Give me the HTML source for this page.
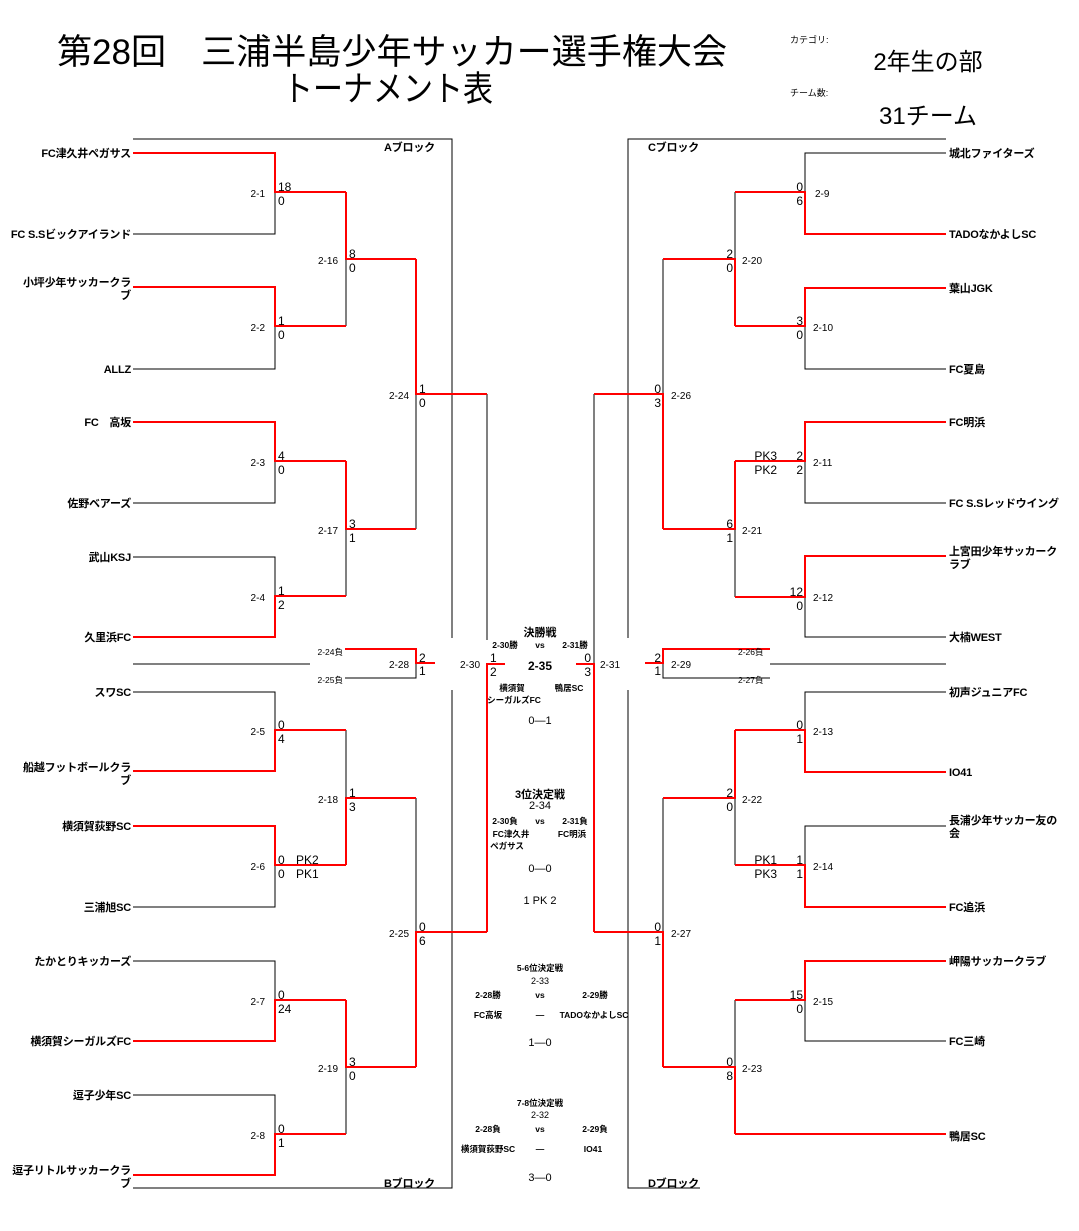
<!DOCTYPE html>
<html><head><meta charset="utf-8"><style>
html,body{margin:0;padding:0;background:#fff;}
svg{display:block;font-family:"Liberation Sans","Noto Sans CJK JP",sans-serif;}
.t{font-size:11px;font-weight:bold;letter-spacing:-0.2px;}
.s{font-size:12px;}
.m{font-size:10px;}
.xs{font-size:8.5px;font-weight:bold;}
</style></head><body>
<svg width="1079" height="1231" viewBox="0 0 1079 1231" xmlns="http://www.w3.org/2000/svg">
<!-- title -->
<text x="57" y="64" font-size="35" textLength="670" lengthAdjust="spacingAndGlyphs">第28回　三浦半島少年サッカー選手権大会</text>
<text x="283" y="101" font-size="35" textLength="210" lengthAdjust="spacingAndGlyphs">トーナメント表</text>
<text x="790" y="43" font-size="9">カテゴリ:</text>
<text x="928" y="70" font-size="24" text-anchor="middle">2年生の部</text>
<text x="790" y="96" font-size="9">チーム数:</text>
<text x="928" y="124" font-size="24" text-anchor="middle">31チーム</text>

<g fill="none" stroke="#000" stroke-width="1">
<path d="M133 139H452V638M452 690V1188H133"/>
<path d="M946 139H628V638M628 690V1188H700"/>
<path d="M133 664H310M770 664H946"/>
<path d="M133 153H275V234H133M133 287H275V369H133M133 422H275V503H133M133 557H275V637H133M133 692H275V771H133M133 826H275V907H133M133 961H275V1041H133M133 1095H275V1175H133"/>
<path d="M346 192V326M346 461V596M346 730V865M346 1000V1134M416 259V529M416 798V1067M487 394V640M487 664V932"/>
<path d="M345 649H416V678H345"/>
<path d="M946 153H805V234H946M946 288H805V369H946M946 422H805V503H946M946 556H805V637H946M946 692H805V772H946M946 826H805V907H946M946 961H805V1041H946"/>
<path d="M735 192V326M735 461V597M735 730V865M735 1000V1134M663 259V529M663 798V1067M594 394V932"/>
<path d="M770 649H663V678H770"/>
</g>
<g fill="none" stroke="#f00" stroke-width="2">
<path d="M133 153H275V192H346M133 287H275V326H346M133 422H275V461H346M133 637H275V596H346M133 771H275V730H346M133 826H275V865H346M133 1041H275V1000H346M133 1175H275V1134H346"/>
<path d="M346 192V259H416M346 461V529H416M346 865V798H416M346 1000V1067H416"/>
<path d="M416 259V394H487M416 1067V932H487M487 932V664H505"/>
<path d="M345 649H416V663H435"/>
<path d="M946 234H805V192H735M946 288H805V326H735M946 422H805V461H735M946 556H805V597H735M946 772H805V730H735M946 907H805V865H735M946 961H805V1000H735M946 1134H735"/>
<path d="M735 326V259H663M735 461V529H663M735 730V798H663M735 1134V1067H663"/>
<path d="M663 529V394H594M663 1067V932H594M594 932V664H576"/>
<path d="M770 649H663V663H645"/>
</g>

<g>
<text x="384" y="151" class="t">Aブロック</text>
<text x="648" y="151" class="t">Cブロック</text>
<text x="384" y="1187" class="t">Bブロック</text>
<text x="648" y="1187" class="t">Dブロック</text>
</g>

<g class="t" text-anchor="end">
<text x="131" y="157">FC津久井ペガサス</text>
<text x="131" y="238">FC S.Sビックアイランド</text>
<text x="131" y="286">小坪少年サッカークラ</text>
<text x="131" y="299">ブ</text>
<text x="131" y="373">ALLZ</text>
<text x="131" y="426">FC　高坂</text>
<text x="131" y="507">佐野ベアーズ</text>
<text x="131" y="561">武山KSJ</text>
<text x="131" y="641">久里浜FC</text>
<text x="131" y="696">スワSC</text>
<text x="131" y="771">船越フットボールクラ</text>
<text x="131" y="784">ブ</text>
<text x="131" y="830">横須賀荻野SC</text>
<text x="131" y="911">三浦旭SC</text>
<text x="131" y="965">たかとりキッカーズ</text>
<text x="131" y="1045">横須賀シーガルズFC</text>
<text x="131" y="1099">逗子少年SC</text>
<text x="131" y="1174">逗子リトルサッカークラ</text>
<text x="131" y="1187">ブ</text>
</g>
<g class="t">
<text x="949" y="157">城北ファイターズ</text>
<text x="949" y="238">TADOなかよしSC</text>
<text x="949" y="292">葉山JGK</text>
<text x="949" y="373">FC夏島</text>
<text x="949" y="426">FC明浜</text>
<text x="949" y="507">FC S.Sレッドウイング</text>
<text x="949" y="555">上宮田少年サッカーク</text>
<text x="949" y="568">ラブ</text>
<text x="949" y="641">大楠WEST</text>
<text x="949" y="696">初声ジュニアFC</text>
<text x="949" y="776">IO41</text>
<text x="949" y="824">長浦少年サッカー友の</text>
<text x="949" y="837">会</text>
<text x="949" y="911">FC追浜</text>
<text x="949" y="965">岬陽サッカークラブ</text>
<text x="949" y="1045">FC三崎</text>
<text x="949" y="1140">鴨居SC</text>
</g>

<g class="m" text-anchor="end">
<text x="265" y="197">2-1</text><text x="265" y="331">2-2</text><text x="265" y="466">2-3</text><text x="265" y="601">2-4</text>
<text x="265" y="735">2-5</text><text x="265" y="870">2-6</text><text x="265" y="1005">2-7</text><text x="265" y="1139">2-8</text>
<text x="338" y="264">2-16</text><text x="338" y="534">2-17</text><text x="338" y="803">2-18</text><text x="338" y="1072">2-19</text>
<text x="409" y="399">2-24</text><text x="409" y="937">2-25</text>
<text x="409" y="668">2-28</text><text x="480" y="668">2-30</text>
<text x="343" y="655" font-size="8.5">2-24負</text><text x="343" y="683" font-size="8.5">2-25負</text>
</g>
<g class="s">
<text x="278" y="191">18</text><text x="278" y="205">0</text>
<text x="278" y="325">1</text><text x="278" y="339">0</text>
<text x="278" y="460">4</text><text x="278" y="474">0</text>
<text x="278" y="595">1</text><text x="278" y="609">2</text>
<text x="278" y="729">0</text><text x="278" y="743">4</text>
<text x="278" y="864">0</text><text x="278" y="878">0</text>
<text x="296" y="864">PK2</text><text x="296" y="878">PK1</text>
<text x="278" y="999">0</text><text x="278" y="1013">24</text>
<text x="278" y="1133">0</text><text x="278" y="1147">1</text>
<text x="349" y="258">8</text><text x="349" y="272">0</text>
<text x="349" y="528">3</text><text x="349" y="542">1</text>
<text x="349" y="797">1</text><text x="349" y="811">3</text>
<text x="349" y="1066">3</text><text x="349" y="1080">0</text>
<text x="419" y="393">1</text><text x="419" y="407">0</text>
<text x="419" y="931">0</text><text x="419" y="945">6</text>
<text x="419" y="662">2</text><text x="419" y="675">1</text>
<text x="490" y="662">1</text><text x="490" y="676">2</text>
</g>

<g class="m">
<text x="815" y="197">2-9</text><text x="813" y="331">2-10</text><text x="813" y="466">2-11</text><text x="813" y="601">2-12</text>
<text x="813" y="735">2-13</text><text x="813" y="870">2-14</text><text x="813" y="1005">2-15</text>
<text x="742" y="264">2-20</text><text x="742" y="534">2-21</text><text x="742" y="803">2-22</text><text x="742" y="1072">2-23</text>
<text x="671" y="399">2-26</text><text x="671" y="937">2-27</text>
<text x="671" y="668">2-29</text><text x="600" y="668">2-31</text>
<text x="738" y="655" font-size="8.5">2-26負</text><text x="738" y="683" font-size="8.5">2-27負</text>
</g>
<g class="s" text-anchor="end">
<text x="803" y="191">0</text><text x="803" y="205">6</text>
<text x="803" y="325">3</text><text x="803" y="339">0</text>
<text x="803" y="460">2</text><text x="803" y="474">2</text>
<text x="777" y="460">PK3</text><text x="777" y="474">PK2</text>
<text x="803" y="596">12</text><text x="803" y="610">0</text>
<text x="803" y="729">0</text><text x="803" y="743">1</text>
<text x="803" y="864">1</text><text x="803" y="878">1</text>
<text x="777" y="864">PK1</text><text x="777" y="878">PK3</text>
<text x="803" y="999">15</text><text x="803" y="1013">0</text>
<text x="733" y="258">2</text><text x="733" y="272">0</text>
<text x="733" y="528">6</text><text x="733" y="542">1</text>
<text x="733" y="797">2</text><text x="733" y="811">0</text>
<text x="733" y="1066">0</text><text x="733" y="1080">8</text>
<text x="661" y="393">0</text><text x="661" y="407">3</text>
<text x="661" y="931">0</text><text x="661" y="945">1</text>
<text x="661" y="662">2</text><text x="661" y="675">1</text>
<text x="591" y="662">0</text><text x="591" y="676">3</text>
</g>

<g text-anchor="middle">
<text x="540" y="636" font-size="11" font-weight="bold">決勝戦</text>
<text x="505" y="648" class="xs">2-30勝</text><text x="540" y="648" class="xs">vs</text><text x="575" y="648" class="xs">2-31勝</text>
<text x="540" y="670" font-size="12" font-weight="bold">2-35</text>
<text x="512" y="691" class="xs" font-size="10">横須賀</text><text x="569" y="691" class="xs" font-size="10">鴨居SC</text>
<text x="514" y="703" class="xs">シーガルズFC</text>
<text x="540" y="724" font-size="11">0—1</text>

<text x="540" y="798" font-size="11" font-weight="bold">3位決定戦</text>
<text x="540" y="809" font-size="11">2-34</text>
<text x="505" y="824" class="xs">2-30負</text><text x="540" y="824" class="xs">vs</text><text x="575" y="824" class="xs">2-31負</text>
<text x="511" y="837" class="xs" font-size="10">FC津久井</text><text x="572" y="837" class="xs" font-size="10">FC明浜</text>
<text x="507" y="849" class="xs">ペガサス</text>
<text x="540" y="872" font-size="11">0—0</text>
<text x="540" y="904" font-size="11">1 PK 2</text>

<text x="540" y="971" class="xs">5-6位決定戦</text>
<text x="540" y="984" font-size="9">2-33</text>
<text x="488" y="998" class="xs">2-28勝</text><text x="540" y="998" class="xs">vs</text><text x="595" y="998" class="xs">2-29勝</text>
<text x="488" y="1018" class="xs">FC高坂</text><text x="540" y="1018" class="xs">—</text><text x="594" y="1018" class="xs">TADOなかよしSC</text>
<text x="540" y="1046" font-size="11">1—0</text>

<text x="540" y="1106" class="xs">7-8位決定戦</text>
<text x="540" y="1118" font-size="9">2-32</text>
<text x="488" y="1132" class="xs">2-28負</text><text x="540" y="1132" class="xs">vs</text><text x="595" y="1132" class="xs">2-29負</text>
<text x="488" y="1152" class="xs">横須賀荻野SC</text><text x="540" y="1152" class="xs">—</text><text x="593" y="1152" class="xs">IO41</text>
<text x="540" y="1181" font-size="11">3—0</text>
</g>
</svg>
</body></html>
